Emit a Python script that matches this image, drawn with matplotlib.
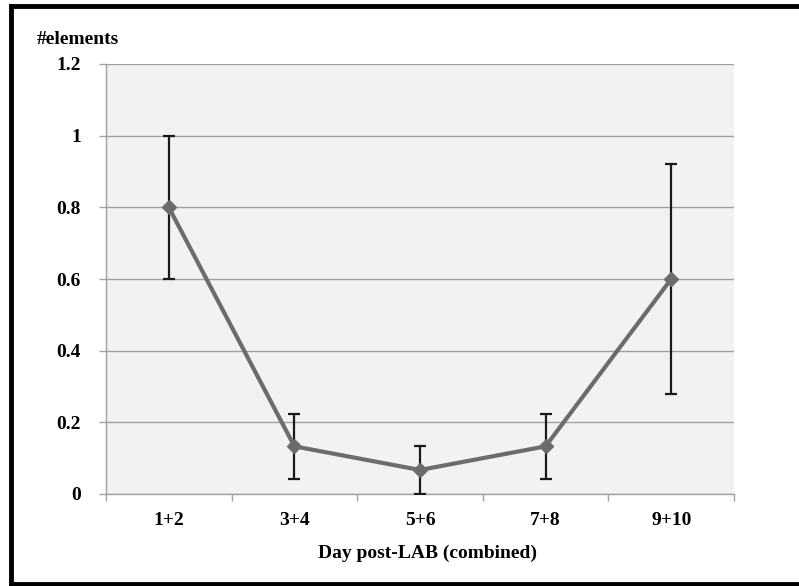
import numpy as np
from matplotlib import pyplot as plt
from matplotlib.lines import Line2D

categories = ["1+2", "3+4", "5+6", "7+8", "9+10"]
means = [0.8, 0.133, 0.067, 0.133, 0.6]
errors = [0.2, 0.09, 0.067, 0.09, 0.32]
y_ticks = [0, 0.2, 0.4, 0.6, 0.8, 1, 1.2]
y_tick_labels = ["0", "0.2", "0.4", "0.6", "0.8", "1", "1.2"]

plt.rcParams['font.family'] = ['Liberation Serif', 'DejaVu Serif']
plt.rcParams['font.weight'] = 'bold'
FS = 14

fig = plt.figure(figsize=(7.99, 5.86), dpi=100)
ax = fig.add_axes([106 / 799, 1 - 494 / 586, 628 / 799, 430 / 586])
ax.set_facecolor('#f2f2f2')

x = np.arange(len(categories))
ax.errorbar(x, means, yerr=errors, fmt='none', ecolor='#1a1a1a',
            elinewidth=1.6, capsize=4.5, capthick=1.6, zorder=3)
ax.plot(x, means, color='#6c6c6c', linewidth=3, marker='D',
        markersize=7.5, markerfacecolor='#6c6c6c', markeredgecolor='#6c6c6c', zorder=4)

ax.set_xlim(-0.5, len(categories) - 0.5)
ax.set_ylim(0, 1.2)
ax.set_yticks(y_ticks)
ax.set_yticklabels(y_tick_labels, fontsize=FS, fontweight='bold')
ax.set_xticks(x)
ax.set_xticklabels(categories, fontsize=FS, fontweight='bold')
ax.set_xticks(np.arange(-0.5, len(categories)), minor=True)

ax.grid(axis='y', color='#a0a0a0', linewidth=1.0)
ax.set_axisbelow(True)
ax.tick_params(axis='x', which='major', length=0, pad=13)
ax.tick_params(axis='x', which='minor', length=5, color='#a0a0a0', width=1)
ax.tick_params(axis='y', length=5, color='#a0a0a0', width=1, pad=13)
for side in ['top', 'right']:
    ax.spines[side].set_visible(False)
for side in ['left', 'bottom']:
    ax.spines[side].set_color('#a0a0a0')
    ax.spines[side].set_linewidth(1.0)

fig.text(37 / 799, 1 - 40 / 586, "#elements", fontsize=FS, fontweight='bold',
         ha='left', va='center')
fig.text(428 / 799, 1 - 553 / 586, "Day post-LAB (combined)", fontsize=FS,
         fontweight='bold', ha='center', va='center')

# black frame (top, left, bottom) around the chart
frame = dict(transform=fig.transFigure, color='black', linewidth=3.5,
             solid_capstyle='projecting')
fig.lines.append(Line2D([11 / 799, 1.0], [1 - 6 / 586, 1 - 6 / 586], **frame))
fig.lines.append(Line2D([11 / 799, 11 / 799], [1 - 6 / 586, 1 - 584 / 586], **frame))
fig.lines.append(Line2D([11 / 799, 1.0], [1 - 584 / 586, 1 - 584 / 586], **frame))

fig.savefig("out.png", dpi=100)
